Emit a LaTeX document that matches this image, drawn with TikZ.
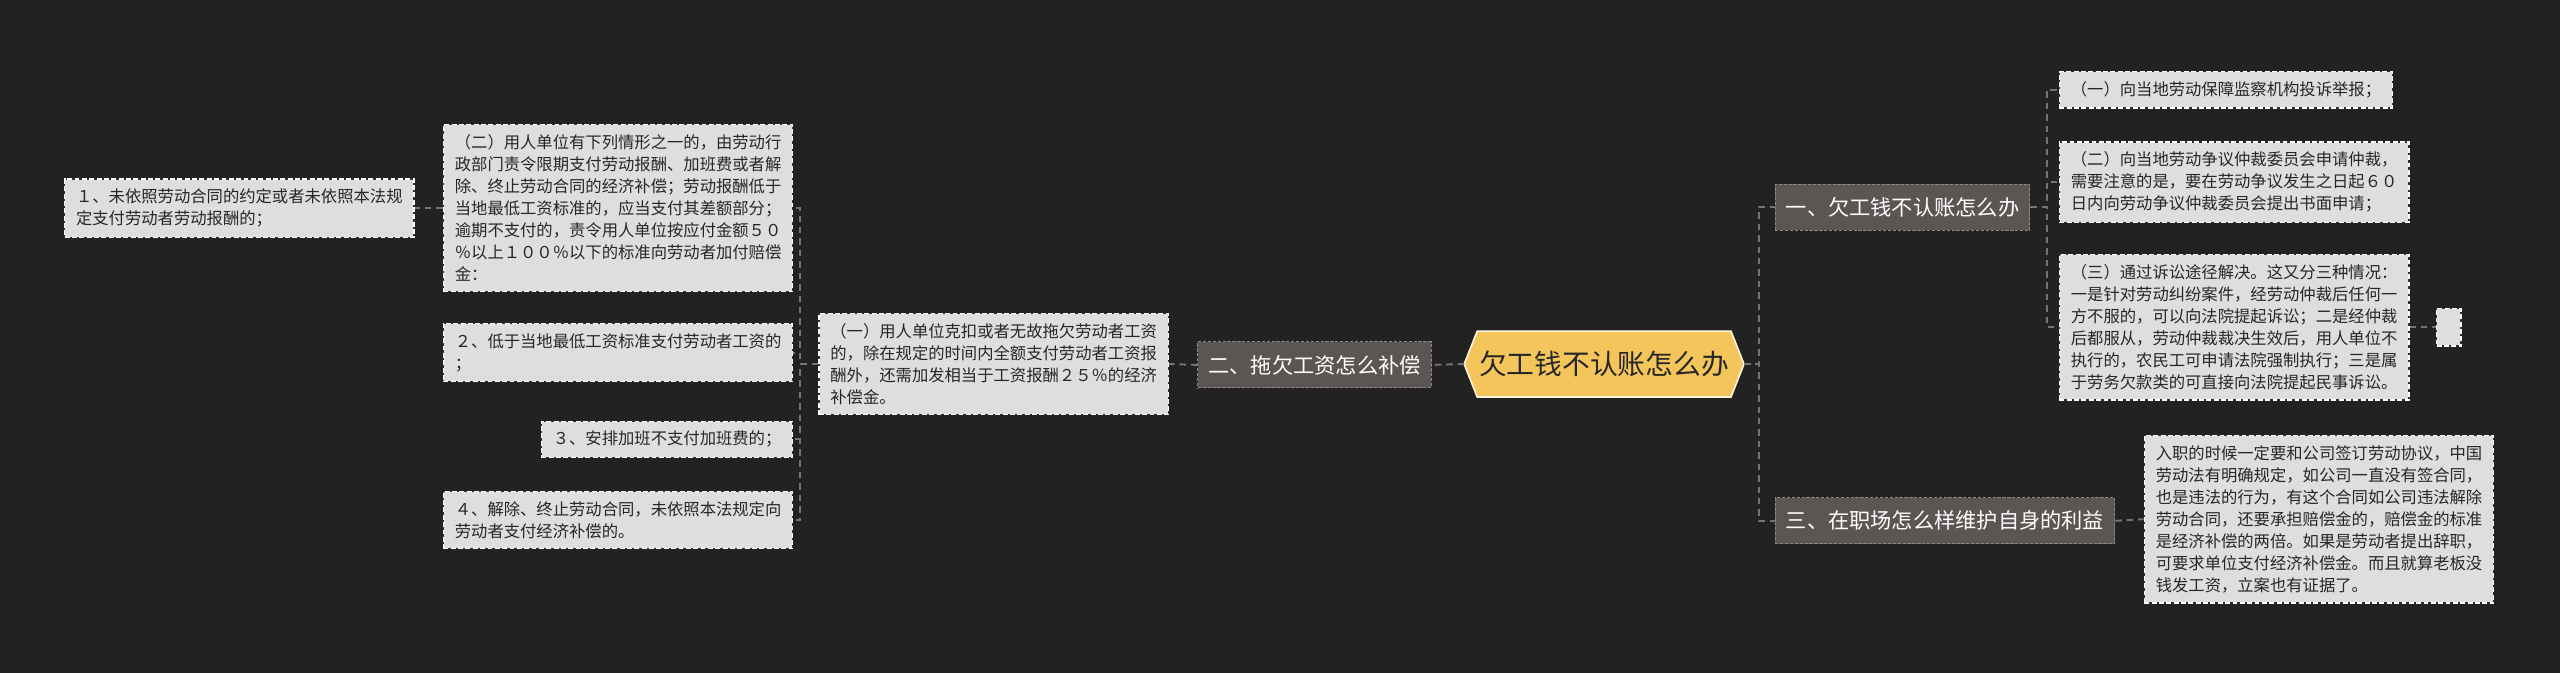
\documentclass[tikz,border=0pt]{standalone}
\usepackage{fontspec}
\setmainfont{Noto Sans CJK SC}
\pgfdeclarelayer{bg}
\pgfdeclarelayer{back}
\pgfsetlayers{bg,back,main}
\definecolor{bgc}{HTML}{222222}
\definecolor{leaffill}{HTML}{DEDEDE}
\definecolor{leafline}{HTML}{2E2E2E}
\definecolor{midfill}{HTML}{5B5653}
\definecolor{midline}{HTML}{8C8783}
\definecolor{rootfill}{HTML}{F3C55A}
\definecolor{rootline}{HTML}{FFF5DA}
\definecolor{conncol}{HTML}{747474}
\definecolor{leaftext}{HTML}{262626}
\tikzset{
 leaf/.style={draw=leafline, fill=leaffill, line width=0.8pt, postaction={draw=white, line width=0.8pt, dash pattern=on 3pt off 1.5pt}, text=leaftext, font=\fontsize{10}{13.5}\selectfont, align=left, inner xsep=7pt, inner ysep=6pt},
 mid/.style={draw=midline, fill=midfill, dash pattern=on 2pt off 1pt, line width=0.6pt, text=white, font=\fontsize{13}{15}\selectfont, inner xsep=6.5pt, inner ysep=8pt},
 rootnode/.style={font=\fontsize{17}{20}\selectfont, text=black!85, minimum width=171pt, minimum height=40pt, inner sep=0pt},
 conn/.style={draw=conncol, line width=1.2pt, dash pattern=on 4pt off 3pt},
}
\begin{document}
\begin{tikzpicture}[x=1pt,y=-1pt]
\begin{pgfonlayer}{bg}
\fill[bgc] (0,0) rectangle (1568,412);
\end{pgfonlayer}
\useasboundingbox (0,0) rectangle (1568,412);

% root
\node[rootnode] (root) at (982.5,223) {欠工钱不认账怎么办};
\begin{pgfonlayer}{back}
\draw[fill=rootfill, draw=rootline, line width=1pt] (root.west) -- ([xshift=8pt]root.north west) -- ([xshift=-8pt]root.north east) -- (root.east) -- ([xshift=-8pt]root.south east) -- ([xshift=8pt]root.south west) -- cycle;
\end{pgfonlayer}

% left side
\node[mid, anchor=east] (l2) at (877,223.5) {二、拖欠工资怎么补偿};
\node[leaf, anchor=east] (l2a) at (716,223) {（一）用人单位克扣或者无故拖欠劳动者工资\\的，除在规定的时间内全额支付劳动者工资报\\酬外，还需加发相当于工资报酬２５％的经济\\补偿金。};
\node[leaf, anchor=east] (l2a1) at (486,127.5) {（二）用人单位有下列情形之一的，由劳动行\\政部门责令限期支付劳动报酬、加班费或者解\\除、终止劳动合同的经济补偿；劳动报酬低于\\当地最低工资标准的，应当支付其差额部分；\\逾期不支付的，责令用人单位按应付金额５０\\％以上１００％以下的标准向劳动者加付赔偿\\金：};
\node[leaf, anchor=east] (l2a2) at (486,216) {２、低于当地最低工资标准支付劳动者工资的\\；};
\node[leaf, anchor=east] (l2a3) at (486,269) {３、安排加班不支付加班费的；};
\node[leaf, anchor=east] (l2a4) at (486,318.5) {４、解除、终止劳动合同，未依照本法规定向\\劳动者支付经济补偿的。};
\node[leaf, anchor=east] (l2a1x) at (254,127.5) {１、未依照劳动合同的约定或者未依照本法规\\定支付劳动者劳动报酬的；};

% right side
\node[mid, anchor=west] (r1) at (1087,127) {一、欠工钱不认账怎么办};
\node[mid, anchor=west] (r3) at (1087,319) {三、在职场怎么样维护自身的利益};
\node[leaf, anchor=west] (r1a) at (1261,55) {（一）向当地劳动保障监察机构投诉举报；};
\node[leaf, anchor=west] (r1b) at (1261,111.5) {（二）向当地劳动争议仲裁委员会申请仲裁，\\需要注意的是，要在劳动争议发生之日起６０\\日内向劳动争议仲裁委员会提出书面申请；};
\node[leaf, anchor=west] (r1c) at (1261,200.5) {（三）通过诉讼途径解决。这又分三种情况：\\一是针对劳动纠纷案件，经劳动仲裁后任何一\\方不服的，可以向法院提起诉讼；二是经仲裁\\后都服从，劳动仲裁裁决生效后，用人单位不\\执行的，农民工可申请法院强制执行；三是属\\于劳务欠款类的可直接向法院提起民事诉讼。};
\node[leaf, anchor=west, minimum width=15pt, minimum height=23pt, inner sep=0pt] (r1ce) at (1492,200.5) {};
\node[leaf, anchor=west] (r3a) at (1313,318) {入职的时候一定要和公司签订劳动协议，中国\\劳动法有明确规定，如公司一直没有签合同，\\也是违法的行为，有这个合同如公司违法解除\\劳动合同，还要承担赔偿金的，赔偿金的标准\\是经济补偿的两倍。如果是劳动者提出辞职，\\可要求单位支付经济补偿金。而且就算老板没\\钱发工资，立案也有证据了。};

% connectors
\draw[conn] (root.west) -- (l2.east);
\draw[conn] (l2.west) -- (l2a.east);
\foreach \c in {l2a1,l2a2,l2a3,l2a4} \draw[conn] (l2a.west) -- ++(-11,0) |- (\c.east);
\draw[conn] (l2a1.west) -- (l2a1x.east);
\foreach \c in {r1,r3} \draw[conn] (root.east) -- ++(9,0) |- (\c.west);
\foreach \c in {r1a,r1b,r1c} \draw[conn] (r1.east) -- ++(10,0) |- (\c.west);
\draw[conn] (r1c.east) -- (r1ce.west);
\draw[conn] (r3.east) -- (r3a.west);
\end{tikzpicture}
\end{document}
